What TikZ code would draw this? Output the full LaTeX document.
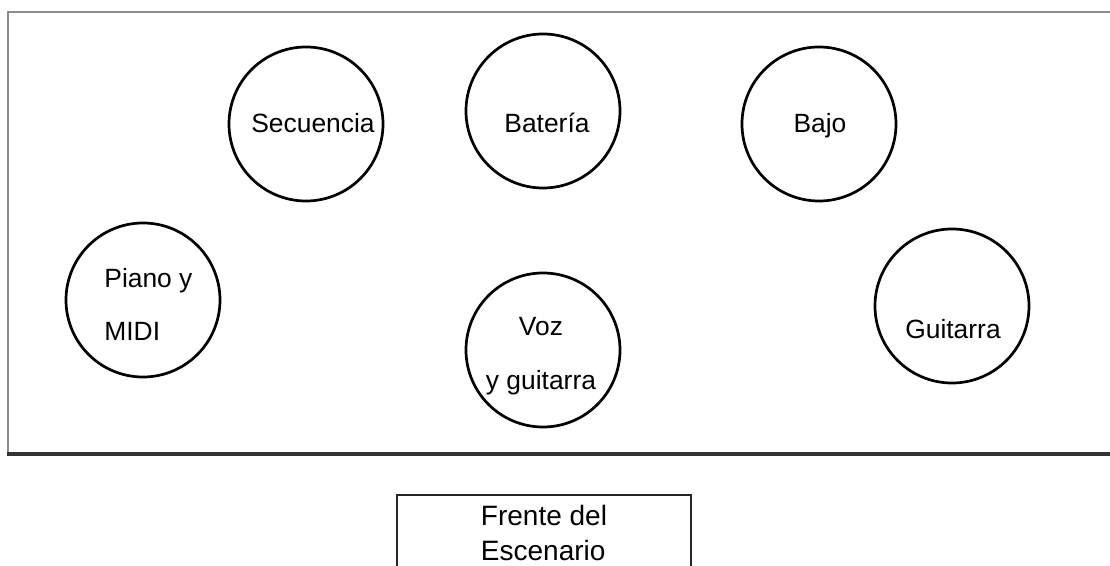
\documentclass[tikz,border=0pt]{standalone}
\usepackage{fontspec}
\setmainfont{Liberation Sans}
\usetikzlibrary{positioning}

\begin{document}
\begin{tikzpicture}[x=0.5pt,y=-0.5pt,every node/.style={font=\fontsize{13.2}{15.5}\selectfont},
  musico/.style={circle,draw=black,line width=1.35pt,minimum size=77pt,inner sep=0pt},
  rotulo/.style={inner sep=0pt,align=left},
  frente/.style={draw=black!85,line width=0.8pt,minimum width=147pt,minimum height=38pt,inner sep=0pt,align=left,
    font=\fontsize{14}{17}\selectfont}]
  \useasboundingbox (0,0) rectangle (1110,566);

  % escenario
  \draw[black!45,line width=1pt] (1110,12) -- (8,12) -- (8,454);
  \draw[black!80,line width=2pt] (7,454) -- (1110,454);

  \node[musico] (secuencia) at (306,124) {};
  \node[musico] (bateria) at (543,111) {};
  \node[musico] (bajo) at (819,124) {};
  \node[musico] (piano) at (143,300) {};
  \node[musico] (voz) at (543,350) {};
  \node[musico] (guitarra) at (952,306) {};

  \node[rotulo] (secuencia-txt) at (313,123) {Secuencia};
  \node[rotulo] (bateria-txt) at (547,123) {Batería};
  \node[rotulo] (bajo-txt) at (820,126) {Bajo};
  \node[rotulo,anchor=west] (piano-txt) at (104,304) {Piano y\\[11pt]MIDI};
  \node[rotulo,align=center] (voz-txt) at (541,356) {Voz\\[11.5pt]y guitarra};
  \node[rotulo] (guitarra-txt) at (953,329) {Guitarra};

  \node[frente,anchor=north] (frente) at (544,494) {Frente del\\[0.5pt]Escenario};
\end{tikzpicture}
\end{document}
